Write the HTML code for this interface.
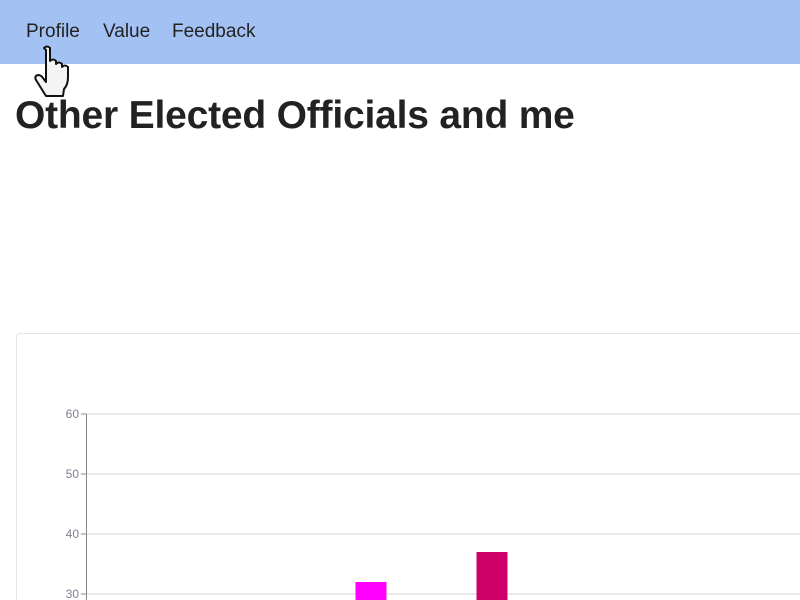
<!DOCTYPE html>
<html style="overflow:hidden;width:800px;height:600px"><head><meta charset="utf-8">
<style>
html,body{margin:0;width:800px;height:600px;overflow:hidden}
body{background:#fff;font-family:"Liberation Sans",sans-serif;position:relative}
.nav{position:absolute;left:0;top:0;width:800px;height:64px;background:#a3c2f3}
.nav span{position:absolute;top:21px;font-size:19px;color:#222}
h1{position:absolute;left:15px;top:94px;margin:0;font-size:39px;font-weight:bold;color:#222;letter-spacing:-0.2px}
.card{position:absolute;left:16px;top:333px;width:790px;height:267px;border:1px solid #e4e4e4;border-bottom:none;border-right:none;border-radius:4px 0 0 0}
svg{position:absolute;left:0;top:0}
</style></head><body>
<div class="nav">
<span style="left:26px">Profile</span>
<span style="left:103px">Value</span>
<span style="left:172px">Feedback</span>
</div>
<h1>Other Elected Officials and me</h1>
<div class="card"></div>
<svg id="chart" width="800" height="600"></svg>
<svg width="800" height="600" style="pointer-events:none">
<path d="M44 48 q3-3 6 0 v13 q3-3 6 0 v3 q3-3 6 0 v3 q3-3 6 0 v10 q0 8-4 12 l-1 7 h-17 l-10-16 q-2-4 2-5 q3 0 5 3 l3 4 v-32 z" fill="#f4f4f4" stroke="#111" stroke-width="2" stroke-linejoin="round"/>
</svg>
<script>
const categories=["A","B"];
const values=[32,37];
const colors=["#ff00ff","#cc0066"];
const ticks=[30,40,50,60];
const barX=[371,492];
const svg=document.getElementById('chart');
const NS="http://www.w3.org/2000/svg";
function y(v){return 414+(60-v)*6;}
function mk(t,a){const e=document.createElementNS(NS,t);for(const k in a)e.setAttribute(k,a[k]);svg.appendChild(e);return e;}
ticks.forEach(t=>{
 const g=mk('line',{x1:86,x2:800,y1:y(t),y2:y(t),stroke:'#e2e2e2','stroke-width':1.5});
 
 
 mk('line',{x1:81,x2:86,y1:y(t),y2:y(t),stroke:'#888'});
 const tx=mk('text',{x:79,y:y(t)+4,'text-anchor':'end','font-size':12,fill:'#7f8194','font-family':'Liberation Sans, sans-serif'});
 tx.textContent=t;
 
 
});
const ax=mk('line',{x1:86.5,x2:86.5,y1:414,y2:600,stroke:'#888'});


values.forEach((v,i)=>{
 const b=mk('rect',{x:barX[i]-15.5,y:y(v),width:31,height:600-y(v),fill:colors[i]});
 
 
});
</script>
</body></html>
